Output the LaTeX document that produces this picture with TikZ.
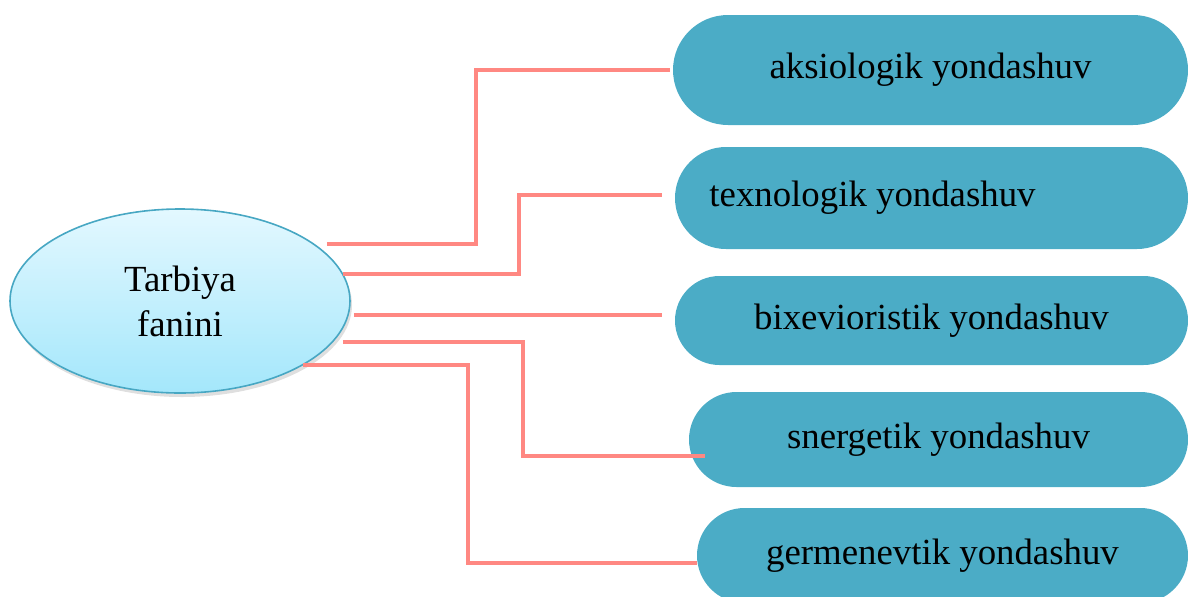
\documentclass[tikz,border=0pt]{standalone}
\usepackage{fontspec}
\setmainfont{Liberation Serif}
\usepackage{tikz}
\usetikzlibrary{shapes.misc,shapes.geometric,shadows}
\definecolor{boxteal}{HTML}{4BACC6}
\definecolor{linkred}{HTML}{FF8882}
\definecolor{ovaltop}{HTML}{E3F8FF}
\definecolor{ovalbot}{HTML}{A4E7FB}
\definecolor{ovalrim}{HTML}{47A7C3}

\begin{document}
\begin{tikzpicture}[x=0.5pt,y=-0.5pt,
  font=\fontsize{18.4}{22.5}\selectfont,
  pill/.style={rounded rectangle,fill=boxteal,inner sep=0pt},
  link/.style={draw=linkred,line width=1.8pt}]
\clip (0,0) rectangle (1188,596);
%\fill[white] (0,0) rectangle (1188,596);
\node[ellipse,minimum width=170pt,minimum height=92pt,inner sep=0pt,align=center,
  top color=ovaltop,bottom color=ovalbot,draw=ovalrim,line width=0.8pt,
  drop shadow={shadow xshift=1pt,shadow yshift=-2pt,opacity=0.25}]
  (tf) at (180,301) {Tarbiya\\fanini};
\node[pill,minimum width=257.5pt,minimum height=55pt] (b1) at (930.5,70) {aksiologik yondashuv};
\node[pill,minimum width=256.5pt,minimum height=51pt] (b2) at (931.5,198) {texnologik yondashuv\hspace*{59pt}};
\node[pill,minimum width=256.5pt,minimum height=44.5pt] (b3) at (931.5,320.5) {bixevioristik yondashuv};
\node[pill,minimum width=249.5pt,minimum height=47.5pt] (b4) at (938.5,439.5) {snergetik yondashuv};
\node[pill,minimum width=245.5pt,minimum height=47.5pt] (b5) at (942.5,555.5) {germenevtik yondashuv};
% bends
\coordinate (k1) at (476,0);
\coordinate (k2) at (519,0);
\coordinate (k4) at (523,0);
\coordinate (k5) at (468,0);
\draw[link] ([xshift=-12pt,yshift=28.5pt]tf.east) -| (k1 |- b1.west) -- ([xshift=-1.5pt]b1.west);
\draw[link] ([xshift=-4pt,yshift=13.5pt]tf.east) -| ([yshift=1.5pt]k2 |- b2.west) -- ([xshift=-6.5pt,yshift=1.5pt]b2.west);
\draw[link] ([xshift=1.5pt,yshift=-7pt]tf.east) -- ([xshift=-6.5pt,yshift=2.75pt]b3.west);
\draw[link] ([xshift=-4pt,yshift=-20.5pt]tf.east) -| ([yshift=-8.25pt]k4 |- b4.west) -- ([xshift=8pt,yshift=-8.25pt]b4.west);
\draw[link] ([xshift=-24pt,yshift=-32pt]tf.east) -| ([yshift=-3.75pt]k5 |- b5.west) -- ([yshift=-3.75pt]b5.west);
\end{tikzpicture}
\end{document}
